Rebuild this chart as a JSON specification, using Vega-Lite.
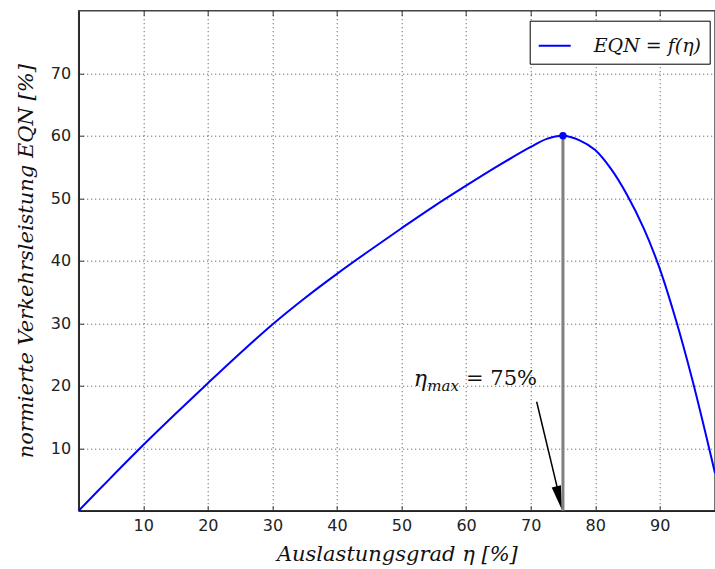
{
  "$schema": "https://vega.github.io/schema/vega-lite/v6.json",
  "width": 636.3,
  "height": 500,
  "autosize": {"type": "none"},
  "padding": {"left": 78.7, "top": 10.7, "right": 0, "bottom": 58.3},
  "background": "white",
  "config": {
    "view": {"stroke": "#444", "strokeWidth": 1.5},
    "axis": {
      "labelFont": "DejaVu Sans",
      "labelFontSize": 16,
      "labelColor": "#222",
      "tickSize": -5,
      "tickColor": "#333",
      "tickWidth": 1,
      "domainColor": "#222",
      "domainWidth": 1.5,
      "grid": true,
      "gridColor": "#000",
      "gridOpacity": 0.7,
      "gridDash": [1, 3],
      "gridWidth": 1,
      "titleFont": "DejaVu Serif",
      "titleFontStyle": "italic",
      "titleFontWeight": "normal",
      "titleFontSize": 21,
      "titleColor": "#111"
    }
  },
  "resolve": {"axis": {"x": "independent"}},
  "datasets": {
    "curve": [
      {"eta": 0, "eqn": 0, "series": "EQN = f(η)"},
      {"eta": 5, "eqn": 5.3, "series": "EQN = f(η)"},
      {"eta": 10, "eqn": 10.5, "series": "EQN = f(η)"},
      {"eta": 15, "eqn": 15.5, "series": "EQN = f(η)"},
      {"eta": 20, "eqn": 20.4, "series": "EQN = f(η)"},
      {"eta": 25, "eqn": 25.2, "series": "EQN = f(η)"},
      {"eta": 30, "eqn": 29.8, "series": "EQN = f(η)"},
      {"eta": 35, "eqn": 34.0, "series": "EQN = f(η)"},
      {"eta": 40, "eqn": 37.9, "series": "EQN = f(η)"},
      {"eta": 45, "eqn": 41.6, "series": "EQN = f(η)"},
      {"eta": 50, "eqn": 45.2, "series": "EQN = f(η)"},
      {"eta": 55, "eqn": 48.7, "series": "EQN = f(η)"},
      {"eta": 60, "eqn": 52.0, "series": "EQN = f(η)"},
      {"eta": 65, "eqn": 55.2, "series": "EQN = f(η)"},
      {"eta": 70, "eqn": 58.2, "series": "EQN = f(η)"},
      {"eta": 72.5, "eqn": 59.5, "series": "EQN = f(η)"},
      {"eta": 75, "eqn": 60.0, "series": "EQN = f(η)"},
      {"eta": 77.5, "eqn": 59.3, "series": "EQN = f(η)"},
      {"eta": 80, "eqn": 57.7, "series": "EQN = f(η)"},
      {"eta": 82.5, "eqn": 54.6, "series": "EQN = f(η)"},
      {"eta": 85, "eqn": 50.4, "series": "EQN = f(η)"},
      {"eta": 87.5, "eqn": 45.2, "series": "EQN = f(η)"},
      {"eta": 90, "eqn": 38.7, "series": "EQN = f(η)"},
      {"eta": 92.5, "eqn": 30.5, "series": "EQN = f(η)"},
      {"eta": 95, "eqn": 21.1, "series": "EQN = f(η)"},
      {"eta": 97.5, "eqn": 10.6, "series": "EQN = f(η)"},
      {"eta": 98.55, "eqn": 6.0, "series": "EQN = f(η)"}
    ],
    "peak": [{"eta": 75, "eqn": 60, "base": 0}],
    "arrow": [{"x1": 70.93, "y1": 17.44, "x2": 74.4, "y2": 2.5, "tipx": 74.8, "tipy": 0.22}]
  },
  "layer": [
    {
      "data": {"name": "peak"},
      "mark": {"type": "rule", "color": "#808080", "strokeWidth": 3},
      "encoding": {
        "x": {"field": "eta", "type": "quantitative", "scale": {"domain": [0, 98.55], "nice": false, "zero": false}, "axis": {"values": [10, 20, 30, 40, 50, 60, 70, 80, 90], "title": "Auslastungsgrad η [%]", "labelPadding": 12, "titlePadding": 10}},
        "y": {"field": "base", "type": "quantitative", "scale": {"domain": [0, 80], "nice": false}, "axis": {"values": [10, 20, 30, 40, 50, 60, 70], "title": "normierte Verkehrsleistung EQN [%]", "labelPadding": 13, "titlePadding": 14}},
        "y2": {"field": "eqn"}
      }
    },
    {
      "data": {"name": "peak"},
      "mark": {"type": "point", "opacity": 0},
      "encoding": {
        "x": {"field": "eta", "type": "quantitative", "axis": {"orient": "top", "values": [10, 20, 30, 40, 50, 60, 70, 80, 90], "labels": false, "grid": false, "domain": false, "title": null}},
        "y": {"field": "eqn", "type": "quantitative"}
      }
    },
    {
      "data": {"name": "curve"},
      "mark": {"type": "line", "strokeWidth": 2, "interpolate": "catmull-rom"},
      "encoding": {
        "x": {"field": "eta", "type": "quantitative", "axis": null},
        "y": {"field": "eqn", "type": "quantitative"},
        "color": {
          "field": "series", "type": "nominal",
          "scale": {"range": ["#0000ff"]},
          "legend": {
            "title": null,
            "orient": "none",
            "legendX": 451,
            "legendY": 10,
            "direction": "vertical",
            "symbolType": "stroke",
            "symbolSize": 1024,
            "symbolStrokeWidth": 2,
            "labelFont": "DejaVu Serif",
            "labelFontStyle": "italic",
            "labelFontSize": 19,
            "labelColor": "#111",
            "labelOffset": 22,
            "padding": 8,
            "strokeColor": "#000",
            "fillColor": "white",
            "cornerRadius": 0
          }
        }
      }
    },
    {
      "data": {"name": "peak"},
      "mark": {"type": "point", "filled": true, "color": "#0000ff", "size": 55, "opacity": 1, "shape": "circle"},
      "encoding": {
        "x": {"field": "eta", "type": "quantitative", "axis": null},
        "y": {"field": "eqn", "type": "quantitative"}
      }
    },
    {
      "data": {"name": "arrow"},
      "mark": {"type": "rule", "color": "#000", "strokeWidth": 1.5},
      "encoding": {
        "x": {"field": "x1", "type": "quantitative", "axis": null},
        "y": {"field": "y1", "type": "quantitative"},
        "x2": {"field": "x2"},
        "y2": {"field": "y2"}
      }
    },
    {
      "data": {"name": "arrow"},
      "mark": {"type": "point", "filled": true, "color": "#000", "opacity": 1, "size": 557, "shape": "M0,0L-0.4,-2L0.4,-2Z", "angle": 346.9},
      "encoding": {
        "x": {"field": "tipx", "type": "quantitative", "axis": null},
        "y": {"field": "tipy", "type": "quantitative"}
      }
    },
    {
      "data": {"values": [{"x": 51.9, "y": 19.9}]},
      "mark": {"type": "text", "text": "η", "font": "DejaVu Serif", "fontStyle": "italic", "fontSize": 22, "align": "left", "baseline": "alphabetic", "color": "#111"},
      "encoding": {"x": {"field": "x", "type": "quantitative", "axis": null}, "y": {"field": "y", "type": "quantitative"}}
    },
    {
      "data": {"values": [{"x": 54.0, "y": 19.1}]},
      "mark": {"type": "text", "text": "max", "font": "DejaVu Serif", "fontStyle": "italic", "fontSize": 15, "align": "left", "baseline": "alphabetic", "color": "#111"},
      "encoding": {"x": {"field": "x", "type": "quantitative", "axis": null}, "y": {"field": "y", "type": "quantitative"}}
    },
    {
      "data": {"values": [{"x": 60.0, "y": 20.1}]},
      "mark": {"type": "text", "text": "= 75%", "font": "DejaVu Serif", "fontSize": 21, "align": "left", "baseline": "alphabetic", "color": "#111"},
      "encoding": {"x": {"field": "x", "type": "quantitative", "axis": null}, "y": {"field": "y", "type": "quantitative"}}
    }
  ]
}
